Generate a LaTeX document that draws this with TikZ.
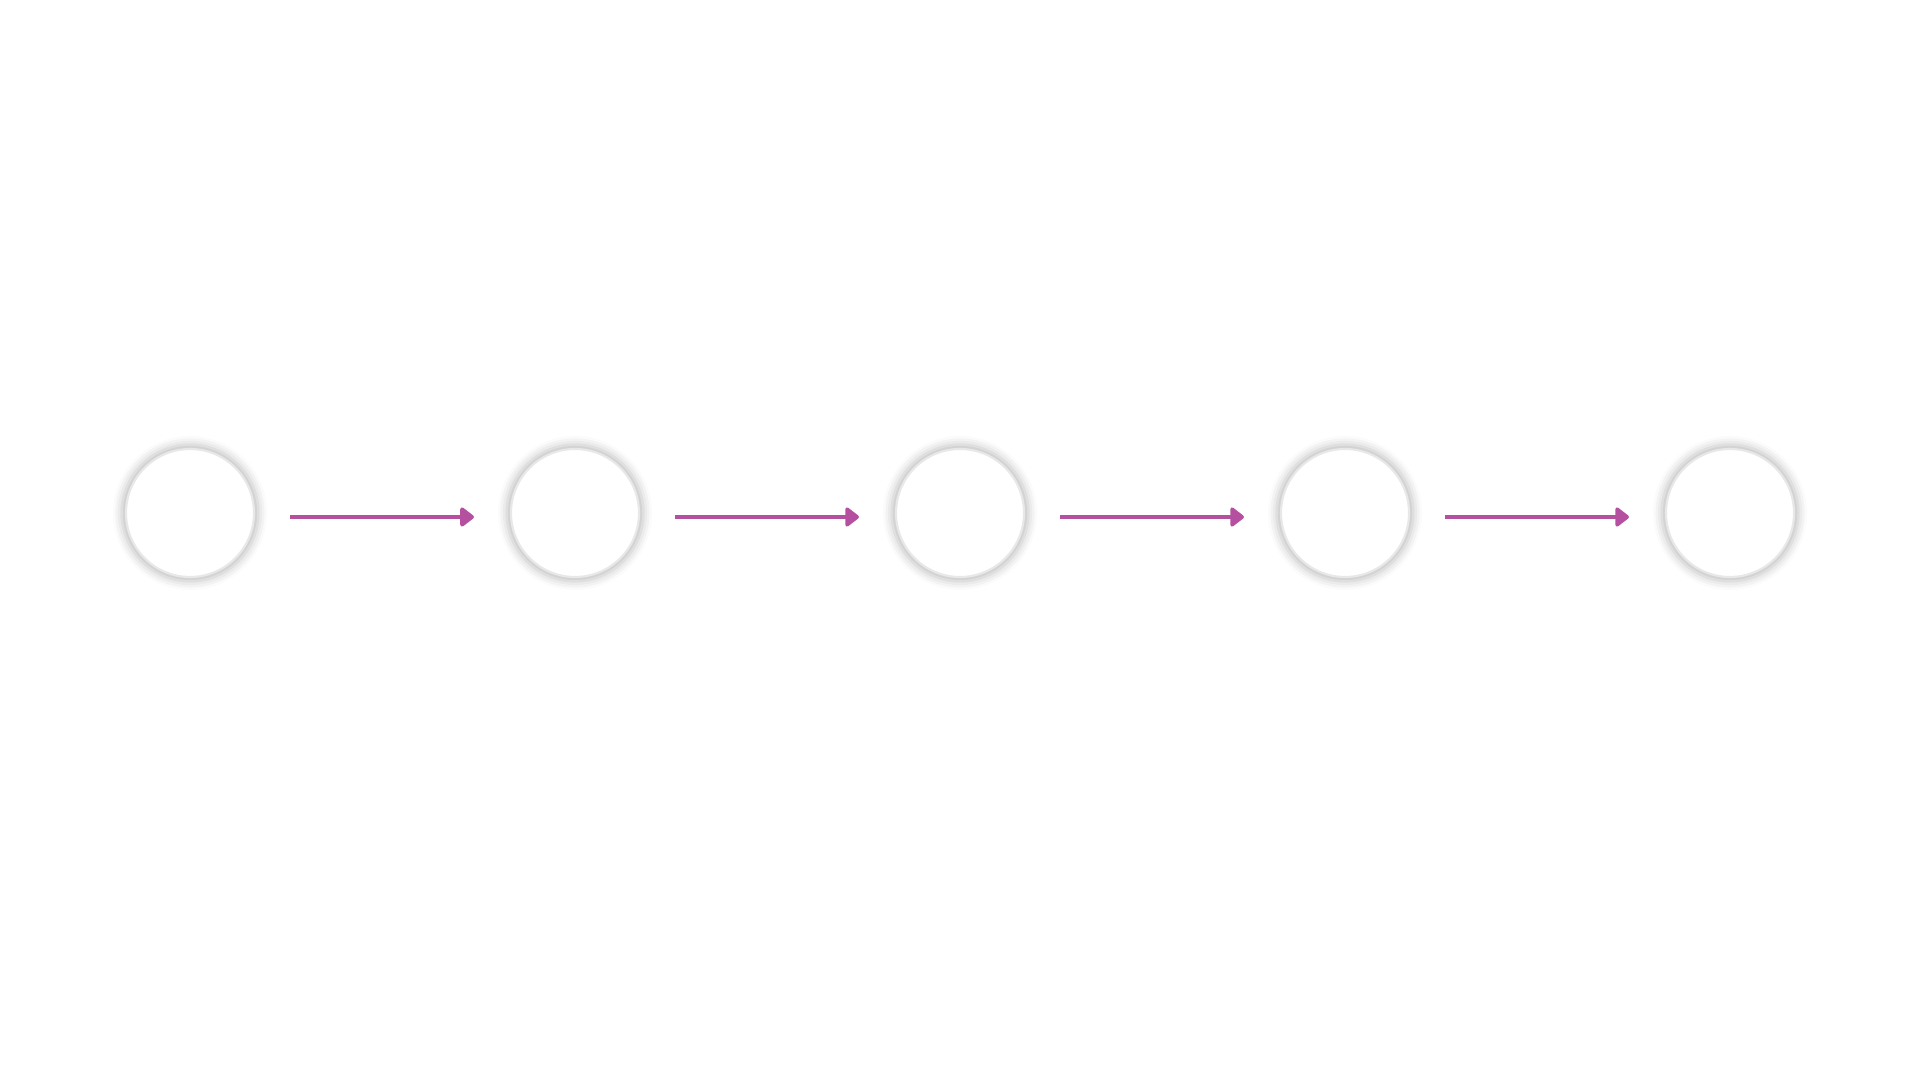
\documentclass[tikz,border=0pt]{standalone}
\usepackage{tikz}
\usetikzlibrary{arrows.meta,shadows.blur}

\definecolor{arrowmag}{RGB}{181,80,160}

\tikzset{
  stagecircle/.style={circle, minimum size=1.28cm, inner sep=0pt, fill=white,
    draw=gray!18, line width=0.6pt,
    blur shadow={shadow xshift=0pt, shadow yshift=0pt, shadow scale=1.07,
      shadow blur radius=0.8mm, shadow opacity=25}},
  flowarrow/.style={draw=arrowmag, line width=0.045cm,
    -{Triangle[round, length=1.5mm, width=2.2mm]},
    shorten <=0.35cm, shorten >=0.36cm}
}

\begin{document}
\begin{tikzpicture}
    \useasboundingbox (0,0) rectangle (19.2,10.8);
    % five stages in a row
    \foreach \i in {1,...,5}
      \node[stagecircle] (c\i) at ({1.9+3.85*(\i-1)}, 5.67) {};
    % connectors, a little below the centre line
    \foreach \i [evaluate=\i as \j using int(\i+1)] in {1,...,4}
      \draw[flowarrow] ([yshift=-0.04cm]c\i.east) -- ([yshift=-0.04cm]c\j.west);
\end{tikzpicture}
\end{document}
